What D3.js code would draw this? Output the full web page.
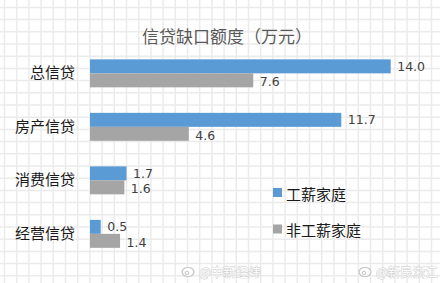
<!DOCTYPE html>
<html>
<head>
<meta charset="utf-8">
<script src="https://cdn.jsdelivr.net/npm/d3@7"></script>
<style>
  html, body { margin: 0; padding: 0; background: #fff; }
  svg { display: block; }
  text { font-family: "Noto Sans CJK SC", "Noto Sans", sans-serif; }
</style>
</head>
<body>
<svg id="chart" width="440" height="283"></svg>
<script>
// Chart data
const categories = ["总信贷", "房产信贷", "消费信贷", "经营信贷"];
const seriesNames = ["工薪家庭", "非工薪家庭"];
const wageValues = [14.0, 11.7, 1.7, 0.5];
const nonWageValues = [7.6, 4.6, 1.6, 1.4];
const seriesColors = ["#5B9BD5", "#A5A5A5"];
const titleText = "信贷缺口额度（万元）";
const watermarks = ["@中新经纬", "@新民浙江"];

const rows = categories.map((c, i) => ({
  category: c,
  values: [
    { series: seriesNames[0], value: wageValues[i] },
    { series: seriesNames[1], value: nonWageValues[i] }
  ]
}));

const W = 440, H = 283;
const svg = d3.select("#chart");

// faint squared-paper background
const grid = svg.append("g").attr("class", "paper");
const gx = d3.range(4.5, W, 12.2);
const gy = d3.range(7.4, H, 12.2);
grid.selectAll("line.v").data(gx).join("line")
  .attr("class", "v")
  .attr("x1", d => d).attr("x2", d => d)
  .attr("y1", 0).attr("y2", H)
  .attr("stroke", "#ebebeb").attr("stroke-width", 1.5);
grid.selectAll("line.h").data(gy).join("line")
  .attr("class", "h")
  .attr("y1", d => d).attr("y2", d => d)
  .attr("x1", 0).attr("x2", W)
  .attr("stroke", "#ebebeb").attr("stroke-width", 1.5);

// scales
const x = d3.scaleLinear().domain([0, 14]).range([90, 390.7]);
const y = d3.scaleBand().domain(categories)
  .range([46.6, 260.6]).paddingInner(0.477).paddingOuter(0.2385);
const ySub = d3.scaleBand().domain(seriesNames).range([0, y.bandwidth()]);
const color = d3.scaleOrdinal().domain(seriesNames).range(seriesColors);

// title
svg.append("text")
  .attr("x", 227).attr("y", 35)
  .attr("text-anchor", "middle").attr("dominant-baseline", "central")
  .attr("font-size", 17).attr("fill", "#595959")
  .text(titleText);

// category axis (labels only)
const yAxis = d3.axisLeft(y).tickSize(0).tickPadding(15);
const ax = svg.append("g").attr("transform", "translate(90,0)").call(yAxis);
ax.select(".domain").remove();
ax.selectAll("text")
  .attr("font-size", 15).attr("fill", "#1a1a1a")
  .style("font-family", "'Noto Sans CJK SC', sans-serif");

// bars
const groups = svg.append("g").selectAll("g").data(rows).join("g")
  .attr("transform", d => `translate(0,${y(d.category)})`);

groups.selectAll("rect").data(d => d.values).join("rect")
  .attr("x", x(0))
  .attr("y", d => ySub(d.series))
  .attr("width", d => x(d.value) - x(0))
  .attr("height", ySub.bandwidth())
  .attr("fill", d => color(d.series));

// value labels, the lower one nudged down a little so the pair stays apart
groups.selectAll("text.val").data(d => d.values).join("text")
  .attr("class", "val")
  .attr("x", d => x(d.value) + 6.5)
  .attr("y", (d, i) => ySub(d.series) + ySub.bandwidth() / 2 + (i ? 1.2 : 0))
  .attr("dominant-baseline", "central")
  .attr("font-size", 12.5).attr("fill", "#404040")
  .style("font-family", "'DejaVu Sans', sans-serif")
  .text(d => d.value.toFixed(1));

// legend
const legend = svg.append("g").selectAll("g").data(seriesNames).join("g")
  .attr("transform", (d, i) => `translate(273,${192.5 + i * 36.5})`);
legend.append("rect")
  .attr("x", 0).attr("y", -4.5).attr("width", 9).attr("height", 9)
  .attr("fill", d => color(d));
legend.append("text")
  .attr("x", 13).attr("y", 0.5)
  .attr("dominant-baseline", "central")
  .attr("font-size", 15).attr("fill", "#1a1a1a")
  .text(d => d);

// source marks
const wm = svg.append("g").selectAll("g").data(watermarks).join("g")
  .attr("transform", (d, i) => `translate(${[182, 359][i]},271)`);
wm.append("ellipse")
  .attr("cx", 6).attr("cy", 1).attr("rx", 6).attr("ry", 4.5)
  .attr("fill", "#fff").attr("stroke", "#c4c4c4").attr("stroke-width", 1.2);
wm.append("circle")
  .attr("cx", 5).attr("cy", 2).attr("r", 1.8)
  .attr("fill", "none").attr("stroke", "#c4c4c4").attr("stroke-width", 1);
wm.append("text")
  .attr("x", 17).attr("y", 0)
  .attr("dominant-baseline", "central")
  .attr("font-size", 12.5).attr("fill", "#fff")
  .attr("stroke", "#c8c8c8").attr("stroke-width", 0.8)
  .attr("paint-order", "stroke")
  .text(d => d);
</script>
</body>
</html>
